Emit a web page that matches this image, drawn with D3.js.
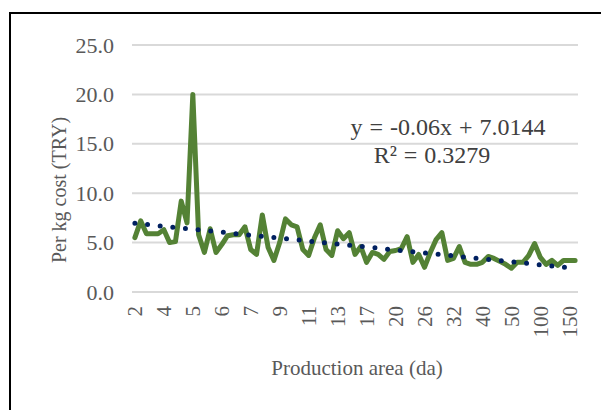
<!DOCTYPE html>
<html>
<head>
<meta charset="utf-8">
<script src="https://cdn.jsdelivr.net/npm/d3@7"></script>
<style>
    body { margin: 0; background: #fff; }
    svg { display: block; }
</style>
</head>
<body>
<div id="chart"></div>
<script>

// per kg cost for each farm, sorted by production area
let costs = [
    5.5, 7.2, 5.9, 5.9, 5.9, 6.3, 5.0, 5.1, 9.2, 7.0,
    20.0, 5.8, 4.0, 6.4, 4.0, 4.8, 5.7, 5.8, 5.8, 6.6,
    4.3, 3.8, 7.8, 4.5, 3.2, 5.0, 7.4, 6.8, 6.6, 4.3,
    3.7, 5.5, 6.8, 4.3, 3.7, 6.2, 5.4, 6.0, 3.8, 4.6,
    3.0, 4.0, 3.8, 3.3, 4.1, 4.2, 4.4, 5.6, 3.0, 3.8,
    2.5, 4.0, 5.3, 6.0, 3.2, 3.4, 4.6, 3.0, 2.8, 2.8,
    3.0, 3.6, 3.4, 3.1, 2.8, 2.4, 3.0, 3.0, 3.7, 4.9,
    3.5, 2.8, 3.2, 2.7, 3.2, 3.2, 3.2
];

// area labels shown on every 5th category
let tickLabels = ["2", "4", "5", "6", "7", "9", "11", "13", "17", "20", "26", "32", "40", "50", "100", "150"];

let yTicks = [0, 5, 10, 15, 20, 25];

// linear trendline as printed on the chart
let trendSlope = -0.06;
let trendIntercept = 7.0144;
let trendText = ["y = -0.06x + 7.0144", "R\u00b2 = 0.3279"];

let width = 601, height = 410;
let serif = "Liberation Serif, Times New Roman, serif";

let svg = d3.select("#chart").append("svg")
    .attr("width", width)
    .attr("height", height);

// outer frame
svg.append("rect")
    .attr("x", 10)
    .attr("y", 13)
    .attr("width", 620)
    .attr("height", 430)
    .attr("fill", "none")
    .attr("stroke", "#000")
    .attr("stroke-width", 2);

let idx = d3.range(costs.length);

let x = d3.scaleBand()
    .domain(idx)
    .range([132, 578]);

let y = d3.scaleLinear()
    .domain([0, 25])
    .range([292, 45]);

// gridlines
svg.append("g")
    .selectAll("line")
    .data(yTicks)
    .enter()
    .append("line")
    .attr("x1", 132)
    .attr("x2", 578)
    .attr("y1", d => y(d))
    .attr("y2", d => y(d))
    .attr("stroke", "#d9d9d9")
    .attr("stroke-width", 2);

// y axis labels
let yAxis = d3.axisLeft(y)
    .tickValues(yTicks)
    .tickFormat(d3.format(".1f"))
    .tickSize(0)
    .tickPadding(18);

let yG = svg.append("g")
    .attr("transform", "translate(132,0)")
    .call(yAxis);
yG.select(".domain").remove();
yG.selectAll("text")
    .attr("font-family", serif)
    .attr("font-size", 22)
    .attr("fill", "#595959");

// x axis labels, every 5th category, rotated
let xAxis = d3.axisBottom(x)
    .tickValues(idx.filter(i => i % 5 === 0))
    .tickFormat(i => tickLabels[i / 5])
    .tickSize(0);

let xG = svg.append("g")
    .attr("transform", "translate(0,292)")
    .call(xAxis);
xG.select(".domain").remove();
xG.selectAll("text")
    .attr("font-family", serif)
    .attr("font-size", 21)
    .attr("fill", "#595959")
    .attr("transform", "rotate(-90)")
    .attr("text-anchor", "end")
    .attr("x", -14)
    .attr("y", 0)
    .attr("dy", "0.35em");

// cost line
let line = d3.line()
    .x((d, i) => x(i) + x.bandwidth() / 2)
    .y(d => y(d));

svg.append("path")
    .datum(costs)
    .attr("d", line)
    .attr("fill", "none")
    .attr("stroke", "#548235")
    .attr("stroke-width", 5)
    .attr("stroke-linejoin", "round")
    .attr("stroke-linecap", "round");

// dotted trendline
let trendPts = [0, costs.length - 1].map(i => [x(i) + x.bandwidth() / 2, y(trendIntercept + trendSlope * (i + 1))]);

svg.append("path")
    .attr("d", d3.line()(trendPts))
    .attr("fill", "none")
    .attr("stroke", "#002060")
    .attr("stroke-width", 5)
    .attr("stroke-linecap", "round")
    .attr("stroke-dasharray", "0 12.7");

// trendline equation
svg.append("text")
    .attr("x", 448)
    .attr("y", 135)
    .attr("text-anchor", "middle")
    .attr("font-family", serif)
    .attr("font-size", 24)
    .attr("word-spacing", 1)
    .attr("fill", "#404040")
    .text(trendText[0]);

svg.append("text")
    .attr("x", 432)
    .attr("y", 163)
    .attr("text-anchor", "middle")
    .attr("font-family", serif)
    .attr("font-size", 24)
    .attr("word-spacing", 1)
    .attr("fill", "#404040")
    .text(trendText[1]);

// axis titles
svg.append("text")
    .attr("transform", "translate(66,190) rotate(-90)")
    .attr("text-anchor", "middle")
    .attr("font-family", serif)
    .attr("font-size", 20)
    .attr("fill", "#595959")
    .text("Per kg cost (TRY)");

svg.append("text")
    .attr("x", 357)
    .attr("y", 375)
    .attr("text-anchor", "middle")
    .attr("font-family", serif)
    .attr("font-size", 21)
    .attr("fill", "#595959")
    .text("Production area (da)");

</script>
</body>
</html>
